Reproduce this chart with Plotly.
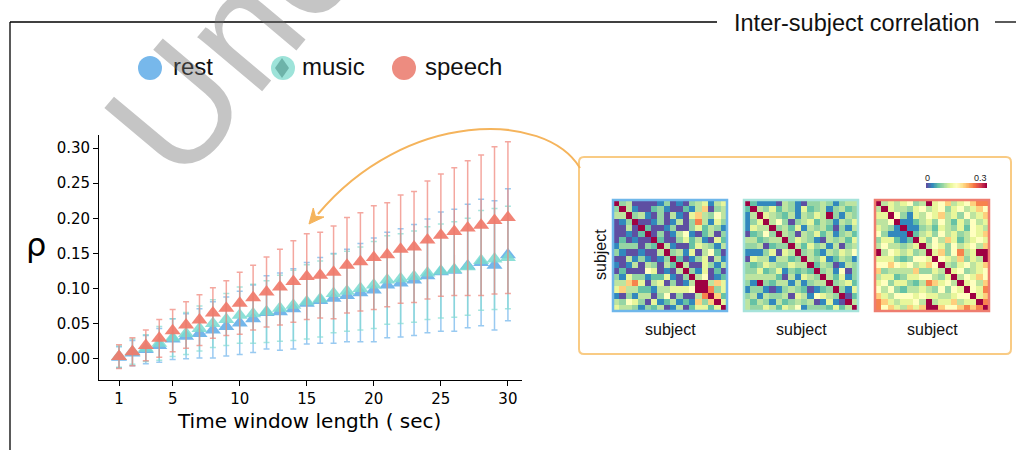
import numpy as np
import plotly.graph_objects as go

W, H = 1016, 450

# ---------------- data ----------------
window_sec = list(range(1, 31))
rest_mean = [0.002, 0.008, 0.013, 0.019, 0.028, 0.032, 0.036, 0.041, 0.046, 0.051,
             0.057, 0.066, 0.067, 0.071, 0.079, 0.083, 0.086, 0.090, 0.094, 0.098,
             0.105, 0.108, 0.112, 0.118, 0.124, 0.126, 0.132, 0.137, 0.133, 0.148]
rest_sd = [0.015, 0.018, 0.020, 0.024, 0.029, 0.032, 0.035, 0.040, 0.042, 0.045,
           0.048, 0.052, 0.055, 0.057, 0.058, 0.061, 0.064, 0.066, 0.070, 0.074,
           0.075, 0.077, 0.079, 0.081, 0.085, 0.087, 0.088, 0.090, 0.092, 0.094]
music_mean = [0.003, 0.010, 0.015, 0.022, 0.030, 0.036, 0.043, 0.050, 0.056, 0.062,
              0.064, 0.067, 0.072, 0.076, 0.081, 0.085, 0.093, 0.096, 0.100, 0.105,
              0.112, 0.114, 0.117, 0.122, 0.125, 0.127, 0.131, 0.140, 0.142, 0.144]
music_sd = [0.015, 0.018, 0.019, 0.024, 0.027, 0.030, 0.032, 0.034, 0.037, 0.040,
            0.042, 0.044, 0.047, 0.050, 0.053, 0.054, 0.056, 0.057, 0.059, 0.062,
            0.063, 0.064, 0.065, 0.066, 0.067, 0.068, 0.069, 0.071, 0.072, 0.073]
speech_mean = [0.003, 0.010, 0.019, 0.029, 0.040, 0.048, 0.055, 0.065, 0.072, 0.079,
               0.087, 0.095, 0.102, 0.110, 0.117, 0.119, 0.123, 0.133, 0.138, 0.144,
               0.148, 0.156, 0.159, 0.169, 0.176, 0.181, 0.186, 0.190, 0.197, 0.201]
speech_sd = [0.017, 0.020, 0.022, 0.027, 0.030, 0.033, 0.036, 0.036, 0.039, 0.044,
             0.046, 0.050, 0.054, 0.058, 0.061, 0.061, 0.066, 0.068, 0.070, 0.074,
             0.074, 0.077, 0.079, 0.084, 0.087, 0.091, 0.096, 0.100, 0.105, 0.108]

x_tick_vals = [1, 5, 10, 15, 20, 25, 30]
y_tick_vals = [0.0, 0.05, 0.10, 0.15, 0.20, 0.25, 0.30]
y_tick_text = ["0.00", "0.05", "0.10", "0.15", "0.20", "0.25", "0.30"]

legend_labels = ["rest", "music", "speech"]

# inter-subject correlation matrices: upper triangle as colour levels 0..9
isc_rest_upper = [
    "34000013010345145", "4100231002147034", "341030410574364", "00130140384153",
    "2001300352431", "030146102403", "20035241052", "4100254314", "341504620",
    "20135041", "4005314", "315020", "46012", "9475", "835", "72", "5"]
isc_music_upper = [
    "21110431033431344", "4352431523413423", "543241435493143", "46303452431435",
    "3425143420314", "430435241342", "35431043425", "4253414034", "342143546",
    "43512431", "2430143", "341603", "42513", "3452", "315", "02", "4"]
isc_speech_upper = [
    "45456349567456788", "5443564563564576", "631546574536457", "11245364253645",
    "1134254352654", "245364534657", "53647524565", "4653645647", "573684599",
    "65473549", "4356457", "563456", "46576", "5647", "658", "57", "8"]
# correlation value for each colour level (9 = diagonal)
isc_level_values = [0.0, 0.03, 0.06, 0.081, 0.099, 0.122, 0.15, 0.19, 0.23, 0.3]
isc_max = 0.3
colorbar_ticks = ["0", "0.3"]


def build_matrix(rows):
    n = len(rows) + 1
    m = np.full((n, n), isc_level_values[9])
    for i, row in enumerate(rows):
        for k, ch in enumerate(row):
            j = i + 1 + k
            m[i, j] = m[j, i] = isc_level_values[int(ch)]
    return m


def px(x):
    return x / W


def py(y):
    return 1 - y / H


def path_from(points, closed=False):
    s = "M " + " L ".join(f"{px(x):.5f},{py(y):.5f}" for x, y in points)
    return s + (" Z" if closed else "")


fig = go.Figure()

# ---------------- main scatter ----------------
series = [
    ("rest", rest_mean, rest_sd, "rgba(90,170,232,0.85)", "rgba(110,180,235,0.7)"),
    ("music", music_mean, music_sd, "rgba(120,218,208,0.85)", "rgba(130,220,210,0.7)"),
    ("speech", speech_mean, speech_sd, "rgba(240,122,106,0.92)", "rgba(240,130,118,0.7)"),
]
for name, m, sd, mc, ec in series:
    fig.add_trace(go.Scatter(
        x=window_sec, y=m, mode="markers", name=name,
        marker=dict(symbol="triangle-up", size=14, color=mc, line=dict(width=0)),
        error_y=dict(type="data", array=sd, visible=True, color=ec, thickness=1.5, width=3),
        xaxis="x", yaxis="y", showlegend=False))

# ---------------- heatmaps ----------------
hm_boxes = [(613, 727, "#6fb7ea"), (744, 858, "#a6e3da"), (875, 989, "#ee7d6f")]
hm_top, hm_bot = 200, 311
mats = [build_matrix(isc_rest_upper), build_matrix(isc_music_upper), build_matrix(isc_speech_upper)]
for k, ((x0, x1, bc), z) in enumerate(zip(hm_boxes, mats)):
    ax = k + 2
    fig.add_trace(go.Heatmap(z=z, colorscale="Spectral", reversescale=True, zmin=0, zmax=isc_max,
                             showscale=False, xaxis=f"x{ax}", yaxis=f"y{ax}", hoverinfo="skip"))
    fig.layout[f"xaxis{ax}"] = dict(domain=[px(x0), px(x1)], visible=False, range=[-0.5, 17.5],
                                    anchor=f"y{ax}", fixedrange=True)
    fig.layout[f"yaxis{ax}"] = dict(domain=[py(hm_bot), py(hm_top)], visible=False, range=[17.5, -0.5],
                                    anchor=f"x{ax}", fixedrange=True)

# colorbar strip
cb_vals = np.linspace(0, isc_max, 80)
fig.add_trace(go.Heatmap(z=[cb_vals], colorscale="Spectral", reversescale=True, zmin=0, zmax=isc_max,
                         showscale=False, xaxis="x5", yaxis="y5", hoverinfo="skip"))
fig.layout["xaxis5"] = dict(domain=[px(926), px(987)], visible=False, anchor="y5")
fig.layout["yaxis5"] = dict(domain=[py(188), py(183)], visible=False, anchor="x5")

shapes = []
for x0, x1, bc in hm_boxes:
    shapes.append(dict(type="rect", xref="paper", yref="paper", x0=px(x0), x1=px(x1),
                       y0=py(hm_bot), y1=py(hm_top), line=dict(color=bc, width=2.5)))

# frame lines
shapes.append(dict(type="line", xref="paper", yref="paper", x0=px(10), x1=px(717), y0=py(22), y1=py(22),
                   line=dict(color="black", width=1.3)))
shapes.append(dict(type="line", xref="paper", yref="paper", x0=px(995), x1=px(1016), y0=py(22), y1=py(22),
                   line=dict(color="black", width=1.3)))
shapes.append(dict(type="line", xref="paper", yref="paper", x0=px(10), x1=px(10), y0=py(22), y1=py(450),
                   line=dict(color="black", width=1.3)))

# rounded orange box
bx0, by0, bx1, by1, r = 579, 157, 1011, 354, 5
box_path = (f"M {px(bx0+r)},{py(by0)} L {px(bx1-r)},{py(by0)} Q {px(bx1)},{py(by0)} {px(bx1)},{py(by0+r)} "
            f"L {px(bx1)},{py(by1-r)} Q {px(bx1)},{py(by1)} {px(bx1-r)},{py(by1)} "
            f"L {px(bx0+r)},{py(by1)} Q {px(bx0)},{py(by1)} {px(bx0)},{py(by1-r)} "
            f"L {px(bx0)},{py(by0+r)} Q {px(bx0)},{py(by0)} {px(bx0+r)},{py(by0)} Z")
shapes.append(dict(type="path", xref="paper", yref="paper", path=box_path,
                   line=dict(color="#f9cb84", width=2)))

# curved arrow
p0, p1, p2, p3 = (580, 168), (545, 110), (405, 110), (318, 214)
arrow_path = (f"M {px(p0[0])},{py(p0[1])} C {px(p1[0])},{py(p1[1])} {px(p2[0])},{py(p2[1])} "
              f"{px(p3[0])},{py(p3[1])}")
shapes.append(dict(type="path", xref="paper", yref="paper", path=arrow_path,
                   line=dict(color="#f5b45c", width=2)))
tip = np.array([309.0, 224.0])
d = np.array([p3[0] - p2[0], p3[1] - p2[1]], dtype=float)
d /= np.linalg.norm(d)
perp = np.array([-d[1], d[0]])
base = tip - 15 * d
notch = tip - 10 * d
head = [tuple(tip), tuple(base + 7 * perp), tuple(notch), tuple(base - 7 * perp)]
shapes.append(dict(type="path", xref="paper", yref="paper", path=path_from(head, closed=True),
                   fillcolor="#f5b45c", line=dict(color="#f5b45c", width=1)))

# legend circles
leg_colors = ["rgba(95,172,232,0.85)", "rgba(140,222,210,0.85)", "rgba(234,120,106,0.85)"]
leg_cx = [150, 283, 404]
leg_tx = [171, 300, 423]
for cx, col in zip(leg_cx, leg_colors):
    shapes.append(dict(type="circle", xref="paper", yref="paper", x0=px(cx - 12), x1=px(cx + 12),
                       y0=py(68 + 12), y1=py(68 - 12), fillcolor=col, line=dict(width=0)))
diamond = [(282, 58), (289, 68), (282, 78), (275, 68)]
shapes.append(dict(type="path", xref="paper", yref="paper", path=path_from(diamond, closed=True),
                   fillcolor="rgba(50,120,110,0.45)", line=dict(width=0)))

annotations = []
sans = "Liberation Sans, Arial, sans-serif"
for t, tx in zip(legend_labels, leg_tx):
    annotations.append(dict(text=t, x=px(tx), y=py(67), xref="paper", yref="paper", showarrow=False,
                            xanchor="left", yanchor="middle", font=dict(family=sans, size=24, color="#111")))
annotations.append(dict(text="Inter-subject correlation", x=px(857), y=py(23), xref="paper", yref="paper",
                        showarrow=False, xanchor="center", yanchor="middle",
                        font=dict(family=sans, size=23.5, color="#111"), bgcolor="white"))
annotations.append(dict(text="ρ", x=px(36), y=py(245), xref="paper", yref="paper", showarrow=False,
                        xanchor="center", yanchor="middle", font=dict(family="DejaVu Sans", size=32, color="black")))
annotations.append(dict(text="Time window length ( sec)", x=px(309), y=py(421), xref="paper", yref="paper",
                        showarrow=False, xanchor="center", yanchor="middle",
                        font=dict(family="DejaVu Sans", size=20, color="black")))
for x0, x1, _ in hm_boxes:
    annotations.append(dict(text="subject", x=px((x0 + x1) / 2), y=py(329), xref="paper", yref="paper",
                            showarrow=False, xanchor="center", yanchor="middle",
                            font=dict(family=sans, size=16, color="#111")))
annotations.append(dict(text="subject", x=px(600), y=py(255), xref="paper", yref="paper", showarrow=False,
                        textangle=-90, xanchor="center", yanchor="middle",
                        font=dict(family=sans, size=16, color="#111")))
annotations.append(dict(text=colorbar_ticks[0], x=px(927), y=py(178), xref="paper", yref="paper",
                        showarrow=False, xanchor="center", yanchor="middle",
                        font=dict(family=sans, size=9, color="#222")))
annotations.append(dict(text=colorbar_ticks[1], x=px(980), y=py(178), xref="paper", yref="paper",
                        showarrow=False, xanchor="center", yanchor="middle",
                        font=dict(family=sans, size=9, color="#222")))
# watermark (cut off at the top edge, as in the reference)
annotations.append(dict(text="Uncorrected Proof", x=px(555), y=py(-345), xref="paper", yref="paper",
                        showarrow=False, textangle=-50, xanchor="center", yanchor="middle",
                        font=dict(family=sans, size=160, color="rgba(110,110,110,0.40)")))

axis_font = dict(family="DejaVu Sans", size=15, color="black")
fig.update_layout(
    width=W, height=H, margin=dict(l=0, r=0, t=0, b=0),
    paper_bgcolor="white", plot_bgcolor="rgba(0,0,0,0)", showlegend=False,
    xaxis=dict(domain=[px(99.3), px(522)], range=[-0.47, 31.05], tickvals=x_tick_vals,
               ticks="outside", ticklen=5, tickwidth=1.2, tickcolor="black", showline=True,
               linecolor="black", linewidth=1.3, showgrid=False, zeroline=False,
               tickfont=axis_font, anchor="y", automargin=False, fixedrange=True),
    yaxis=dict(domain=[py(380), py(135)], range=[-0.0303, 0.3186], tickvals=y_tick_vals,
               ticktext=y_tick_text, ticks="outside", ticklen=5, tickwidth=1.2, tickcolor="black",
               showline=True, linecolor="black", linewidth=1.3, showgrid=False, zeroline=False,
               tickfont=axis_font, anchor="x", automargin=False, fixedrange=True),
    shapes=shapes, annotations=annotations,
)

fig.write_html("out.html")
